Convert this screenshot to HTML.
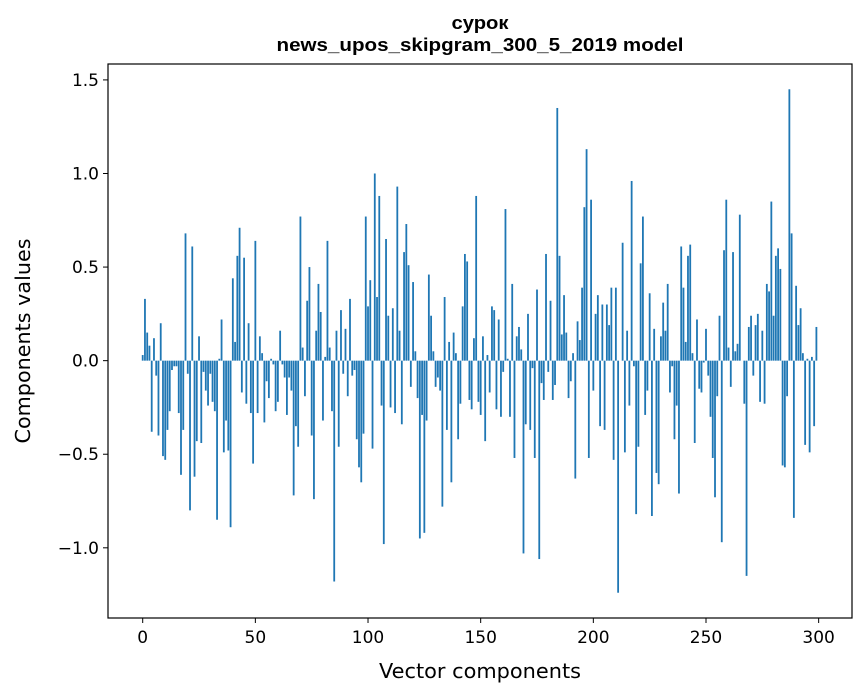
<!DOCTYPE html>
<html><head><meta charset="utf-8"><style>
html,body{margin:0;padding:0;background:#fff;}
svg{display:block;font-family:"DejaVu Sans","Liberation Sans",sans-serif;}
.ttl{font-family:"Liberation Sans","DejaVu Sans",sans-serif;font-weight:bold;}
</style></head><body>
<svg id="chart" width="867" height="696" viewBox="0 0 867 696" xmlns="http://www.w3.org/2000/svg">
<rect width="867" height="696" fill="#fff"/>
<text class="ttl" x="480" y="29" text-anchor="middle" font-size="18" textLength="57" lengthAdjust="spacingAndGlyphs">сурок</text>
<text class="ttl" x="480" y="51" text-anchor="middle" font-size="18" textLength="407" lengthAdjust="spacingAndGlyphs">news_upos_skipgram_300_5_2019 model</text>
<g id="bars"></g>
<g id="xticks"></g>
<g id="yticks"></g>
<rect x="108" y="64" width="744" height="554" fill="none" stroke="#000" stroke-width="1.2"/>
<text x="480" y="678" text-anchor="middle" font-size="20" textLength="202" lengthAdjust="spacingAndGlyphs">Vector components</text>
<text transform="translate(30,341) rotate(-90)" text-anchor="middle" font-size="20" textLength="205" lengthAdjust="spacingAndGlyphs">Components values</text>
</svg>
<script>
const values = [
0.03,0.33,0.15,0.08,-0.38,0.12,-0.08,-0.40,0.20,-0.51,
-0.53,-0.37,-0.27,-0.05,-0.03,-0.03,-0.28,-0.61,-0.37,0.68,
-0.07,-0.80,0.61,-0.62,-0.43,0.13,-0.44,-0.06,-0.16,-0.24,
-0.07,-0.22,-0.27,-0.85,0.01,0.22,-0.49,-0.32,-0.48,-0.89,
0.44,0.10,0.56,0.71,-0.17,0.55,-0.23,0.20,-0.28,-0.55,
0.64,-0.28,0.13,0.04,-0.33,-0.11,-0.20,0.01,-0.02,-0.27,
-0.22,0.16,-0.02,-0.09,-0.29,-0.09,-0.16,-0.72,-0.35,-0.46,
0.77,0.07,-0.19,0.32,0.50,-0.40,-0.74,0.16,0.41,0.26,
-0.32,0.02,0.64,0.07,-0.27,-1.18,0.16,-0.46,0.27,-0.07,
0.17,-0.19,0.33,-0.08,-0.05,-0.42,-0.57,-0.65,-0.39,0.77,
0.29,0.43,-0.47,1.00,0.34,0.88,-0.24,-0.98,0.65,0.24,
-0.25,0.28,-0.28,0.93,0.16,-0.34,0.58,0.73,0.51,-0.14,
0.42,0.05,-0.20,-0.95,-0.29,-0.92,-0.32,0.46,0.24,0.05,
-0.14,-0.09,-0.16,-0.78,0.34,-0.37,0.10,-0.65,0.15,0.04,
-0.42,-0.23,0.29,0.57,0.53,-0.21,-0.26,0.12,0.88,-0.22,
-0.29,0.13,-0.43,0.03,-0.17,0.29,0.27,-0.26,0.22,-0.30,
-0.06,0.81,0.01,-0.30,0.41,-0.52,0.13,0.18,0.06,-1.03,
-0.34,0.25,-0.37,-0.04,-0.52,0.38,-1.06,-0.12,-0.21,0.57,
-0.06,0.32,-0.21,-0.13,1.35,0.56,0.14,0.35,0.15,-0.20,
-0.11,0.04,-0.63,0.21,0.11,0.39,0.82,1.13,-0.52,0.86,
-0.16,0.25,0.35,-0.35,0.30,-0.37,0.30,0.19,0.39,-0.53,
0.39,-1.24,0.00,0.63,-0.49,0.16,-0.24,0.96,-0.03,-0.82,
-0.46,0.52,0.77,-0.29,-0.16,0.36,-0.83,0.17,-0.60,-0.66,
0.13,0.31,0.16,0.41,-0.17,-0.03,-0.42,-0.24,-0.71,0.61,
0.39,0.10,0.56,0.62,0.04,-0.44,0.22,-0.15,-0.17,-0.01,
0.17,-0.08,-0.30,-0.52,-0.73,-0.19,0.24,-0.97,0.59,0.86,
0.07,-0.14,0.58,0.05,0.09,0.78,0.00,-0.23,-1.15,0.18,
0.24,-0.08,0.19,0.25,-0.22,0.16,-0.23,0.41,0.37,0.85,
0.24,0.56,0.60,0.49,-0.56,-0.57,-0.19,1.45,0.68,-0.84,
0.40,0.19,0.28,0.04,-0.45,0.01,-0.49,0.02,-0.35,0.18
];
const xTickValues = [0,50,100,150,200,250,300];
const xTickLabels = ["0","50","100","150","200","250","300"];
const yTickValues = [-1.0,-0.5,0.0,0.5,1.0,1.5];
const yTickLabels = ["\u22121.0","\u22120.5","0.0","0.5","1.0","1.5"];

const NS = "http://www.w3.org/2000/svg";
const L = 108, R = 852, T = 64, B = 618;
const xMin = -15.4, xMax = 314.8, yMin = -1.375, yMax = 1.585;
function xs(v){ return L + (v - xMin) / (xMax - xMin) * (R - L); }
function ys(v){ return B - (v - yMin) / (yMax - yMin) * (B - T); }
function mk(tag, attrs){ const e = document.createElementNS(NS, tag); for (const k in attrs) e.setAttribute(k, attrs[k]); return e; }

const barsG = document.getElementById('bars');
values.forEach((v, i) => {
  const x0 = xs(i - 0.4), x1 = xs(i + 0.4);
  const y0 = ys(Math.max(v, 0)), y1 = ys(Math.min(v, 0));
  const r = mk('rect', {x: x0, y: y0, width: x1 - x0, height: Math.max(y1 - y0, 0.01), fill: '#1f77b4'});
  
  
  barsG.appendChild(r);
});

const xg = document.getElementById('xticks');
xTickValues.forEach((v, i) => {
  const x = xs(v);
  const t = mk('line', {x1: x, x2: x, y1: B, y2: B + 5, stroke: '#000', 'stroke-width': 1});
  
  
  xg.appendChild(t);
  const l = mk('text', {x: x, y: B + 25, 'text-anchor': 'middle', 'font-size': 17});
  
  
  l.textContent = xTickLabels[i];
  xg.appendChild(l);
});

const yg = document.getElementById('yticks');
yTickValues.forEach((v, i) => {
  const y = ys(v);
  const t = mk('line', {x1: L - 5, x2: L, y1: y, y2: y, stroke: '#000', 'stroke-width': 1});
  
  
  yg.appendChild(t);
  const l = mk('text', {x: L - 9, y: y + 6, 'text-anchor': 'end', 'font-size': 17});
  
  
  l.textContent = yTickLabels[i];
  yg.appendChild(l);
});
</script>
</body></html>
